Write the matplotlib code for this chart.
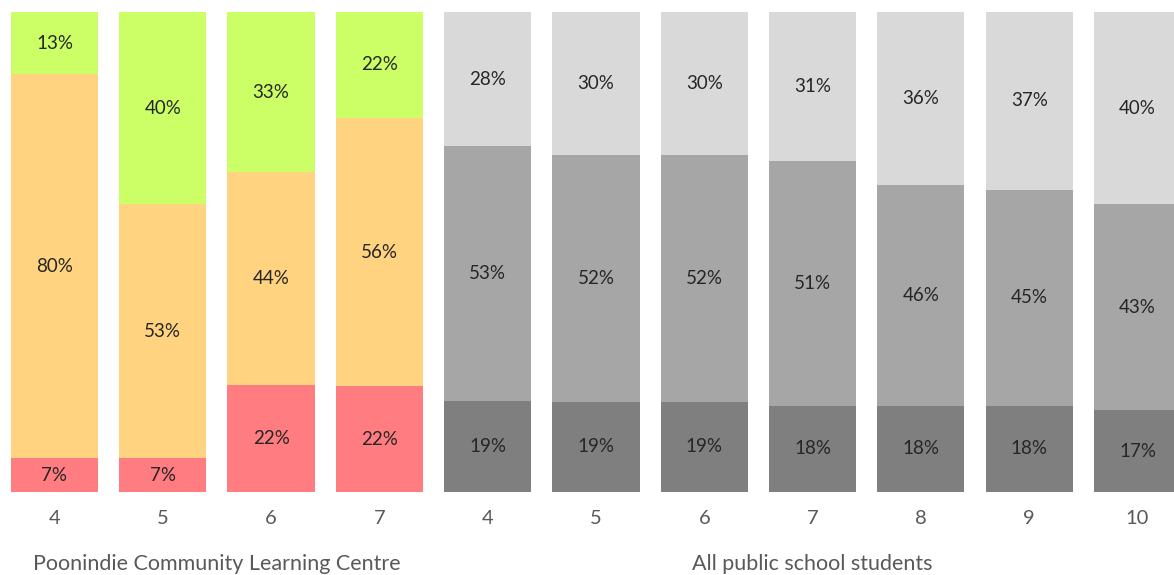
import numpy as np
import matplotlib
matplotlib.use("Agg")
import matplotlib.pyplot as plt

plt.rcParams['font.family'] = ['Lato', 'DejaVu Sans']

# year levels
school_years = ["4", "5", "6", "7"]
public_years = ["4", "5", "6", "7", "8", "9", "10"]

# Poonindie Community Learning Centre (bottom, middle, top)
school_low = [7, 7, 22, 22]
school_mid = [80, 53, 44, 56]
school_high = [13, 40, 33, 22]

# All public school students
public_low = [19, 19, 19, 18, 18, 18, 17]
public_mid = [53, 52, 52, 51, 46, 45, 43]
public_high = [28, 30, 30, 31, 36, 37, 40]

group_labels = ["Poonindie Community Learning Centre", "All public school students"]

school_colors = ["#FF7C80", "#FFD37F", "#CCFF66"]
public_colors = ["#7F7F7F", "#A6A6A6", "#D9D9D9"]

fig = plt.figure(figsize=(11.74, 5.75), dpi=100)
ax = fig.add_axes([0, 83 / 575, 1, 480 / 575])

lows = school_low + public_low
mids = school_mid + public_mid
highs = school_high + public_high
colors = [school_colors] * len(school_years) + [public_colors] * len(public_years)
labels = school_years + public_years

x = np.arange(len(labels))
for i in x:
    vals = [lows[i], mids[i], highs[i]]
    tot = sum(vals)
    bottom = 0
    for v, c in zip(vals, colors[i]):
        h = v / tot * 100
        ax.bar(i, h, width=0.805, bottom=bottom, color=c, edgecolor='none')
        ax.text(i, bottom + h / 2, f"{v}%", ha='center', va='center',
                fontsize=13.5, color='#262626')
        bottom += h

ax.set_xlim(-0.503, 10.337)
ax.set_ylim(0, 100)
ax.set_xticks(x)
ax.set_xticklabels(labels, fontsize=14.5, color='#595959')
ax.tick_params(axis='x', length=0, pad=13)
ax.set_yticks([])
for s in ax.spines.values():
    s.set_visible(False)

# group labels under the ticks
nschool = len(school_years)
ax.text((nschool - 1) / 2, -14.9, group_labels[0], ha='center', va='center',
        fontsize=15.5, color='#595959', clip_on=False)
ax.text(nschool + (len(public_years) - 1) / 2, -14.9, group_labels[1], ha='center',
        va='center', fontsize=15.5, color='#595959', clip_on=False)

fig.savefig("out.png", dpi=100)
